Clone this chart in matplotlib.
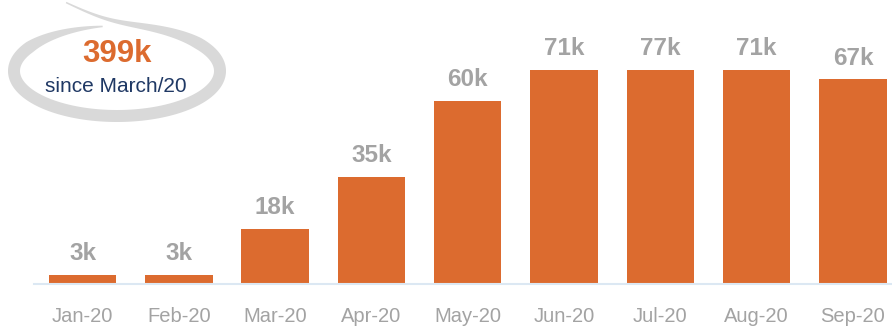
import numpy as np
import matplotlib.pyplot as plt
from matplotlib.patches import Polygon

plt.rcParams['font.family'] = ['Liberation Sans', 'DejaVu Sans']

months = ['Jan-20', 'Feb-20', 'Mar-20', 'Apr-20', 'May-20', 'Jun-20', 'Jul-20', 'Aug-20', 'Sep-20']
values = [3, 3, 18, 35, 60, 71, 77, 71, 67]   # thousands
total_label = '399k'
total_caption = 'since March/20'

orange = '#dc6b2f'
grey_text = '#a3a3a3'
navy = '#1f3864'

fig = plt.figure(figsize=(8.92, 3.28), dpi=100)

# the scale tops out at 70k, so the tallest bars get clipped like in the original
ymax = 70
ax = fig.add_axes([34.4 / 892, 44 / 328, 866.7 / 892, 214 / 328])
ax.patch.set_visible(False)
x = np.arange(len(months))
bars = ax.bar(x, values, width=0.7, color=orange, zorder=2)
ax.set_xlim(-0.5, len(months) - 0.5)
ax.set_ylim(0, ymax)

for xi, v in zip(x, values):
    ax.annotate(f'{v}k', (xi, min(v, ymax)), xytext=(0, 10.5), textcoords='offset points',
                ha='center', va='baseline', fontsize=17.5, fontweight='bold',
                color=grey_text, annotation_clip=False)

ax.set_xticks(x)
ax.set_xticklabels(months, fontsize=14.5, color=grey_text)
ax.tick_params(axis='x', length=0, pad=16.5)
ax.set_yticks([])
for s in ['top', 'right', 'left']:
    ax.spines[s].set_visible(False)
ax.spines['bottom'].set_color('#dce8f3')
ax.spines['bottom'].set_linewidth(1.5)
ax.spines['bottom'].set_clip_on(False)

# hand-drawn style ring round the total (overlay axes in pixel coords)
ov = fig.add_axes([0, 0, 1, 1], zorder=-1)
ov.set_xlim(0, 892)
ov.set_ylim(328, 0)
ov.axis('off')

cx, cy, a, b = 117, 71, 103, 45
theta = np.radians(np.linspace(108, -262, 400))
sweep = np.degrees(theta[0] - theta)
scale = 1 + 0.6 * np.exp(-sweep / 10)
px = cx + a * scale * np.cos(theta)
py = cy - b * scale * np.sin(theta)
w = 1.5 + 10.5 * np.clip(sweep / 70, 0, 1) * np.clip((sweep[-1] - sweep) / 50, 0, 1)
dx = np.gradient(px)
dy = np.gradient(py)
n = np.hypot(dx, dy)
nx, ny = -dy / n, dx / n
outer = np.column_stack([px + nx * w / 2, py + ny * w / 2])
inner = np.column_stack([px - nx * w / 2, py - ny * w / 2])
ov.add_patch(Polygon(np.vstack([outer, inner[::-1]]), closed=True,
                     facecolor='#d9d9d9', edgecolor='none'))

fig.text(117 / 892, 1 - 54 / 328, total_label, ha='center', va='center',
         fontsize=22.5, fontweight='bold', color=orange)
fig.text(116 / 892, 1 - 86 / 328, total_caption, ha='center', va='center',
         fontsize=15, color=navy)

fig.savefig('out.png', dpi=100)
